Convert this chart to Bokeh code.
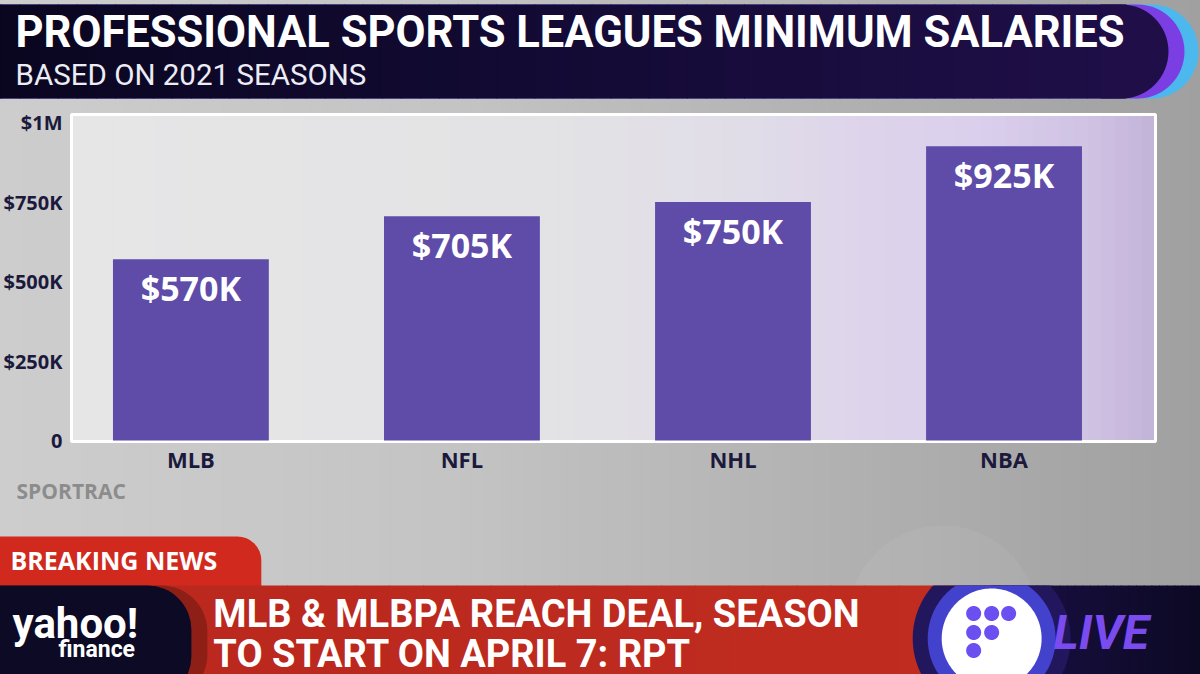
import numpy as np
from bokeh.plotting import figure
from bokeh.models import Range1d, FixedTicker
from bokeh.core.properties import value
from bokeh.embed import file_html
from bokeh.resources import INLINE

# ---------------- data ----------------
leagues = ["MLB", "NFL", "NHL", "NBA"]
min_salary = [570000, 705000, 750000, 925000]
salary_labels = ["$570K", "$705K", "$750K", "$925K"]
y_ticks = [0, 250000, 500000, 750000, 1000000]
y_tick_labels = ["0", "$250K", "$500K", "$750K", "$1M"]
title = "PROFESSIONAL SPORTS LEAGUES MINIMUM SALARIES"
subtitle = "BASED ON 2021 SEASONS"
source_note = "SPORTRAC"
tab_text = "BREAKING NEWS"
headline = ["MLB & MLBPA REACH DEAL, SEASON", "TO START ON APRIL 7: RPT"]

# ---------------- layout (page pixels) ----------------
W, H = 1200, 674
FL, FR, FT, FB = 70, 1155, 114, 441          # chart panel (frame)
BAR0_X, BAR_DX = 189.5, 271.3                 # first bar centre, spacing
ZERO_Y, TOP_Y = 440, 122                      # value 0 and 1M in page px
ppv = (ZERO_Y - TOP_Y) / 1e6

idx = list(range(len(leagues)))
x_range = Range1d(-(BAR0_X - FL) / BAR_DX, (FR - BAR0_X) / BAR_DX)
y_range = Range1d(-(FB - ZERO_Y) / ppv, (ZERO_Y - FT) / ppv)

p = figure(width=W, height=H, x_range=x_range, y_range=y_range,
           output_backend="svg", toolbar_location=None,
           min_border_left=FL, min_border_right=W - FR,
           min_border_top=FT, min_border_bottom=H - FB)
p.extra_x_ranges = {"px": Range1d(FL, FR)}
p.extra_y_ranges = {"py": Range1d(FB, FT)}
p.border_fill_color = "#bdbdbd"
p.background_fill_color = "#e4e4e4"
p.outline_line_color = None
p.xgrid.visible = False
p.ygrid.visible = False

PX = dict(x_range_name="px", y_range_name="py", level="guide")


def hex2rgb(h):
    h = h.lstrip("#")
    return [int(h[i:i + 2], 16) for i in (0, 2, 4)]


def mix(stops, t):
    if t <= stops[0][0]:
        return stops[0][1]
    for (p0, c0), (p1, c1) in zip(stops, stops[1:]):
        if t <= p1:
            f = (t - p0) / (p1 - p0)
            a, b = hex2rgb(c0), hex2rgb(c1)
            return "#%02x%02x%02x" % tuple(int(round(a[k] + (b[k] - a[k]) * f)) for k in range(3))
    return stops[-1][1]


def strips(xl, xr, yt, yb, stops, n):
    e = np.linspace(xl, xr, n + 1)
    m = (e[:-1] + e[1:]) / 2
    p.quad(left=e[:-1], right=e[1:] + 0.8, top=yt, bottom=yb,
           fill_color=[mix(stops, v) for v in m], line_color=None, **PX)


def box(l, r, t, b, color, radius=0, alpha=1.0):
    p.quad(left=[l], right=[r], top=[t], bottom=[b], fill_color=color,
           fill_alpha=alpha, line_color=None, border_radius=radius, **PX)


def disc(cx, cy, r, color, ycut=None, alpha=1.0):
    a = np.linspace(0, 2 * np.pi, 180)
    xs = cx + r * np.cos(a)
    ys = cy + r * np.sin(a)
    if ycut is not None:
        ys = np.maximum(ys, ycut)
    p.patch(xs, ys, fill_color=color, fill_alpha=alpha, line_color=None, **PX)


def txt(x, y, s, size, color, font="Roboto", style="bold", align="left"):
    # y is the vertical centre of the text line
    p.text(x=[x], y=[y], text=[s], text_font=value(font), text_font_size=f"{size}px",
           text_font_style=style, text_color=color, text_align=align,
           text_baseline="middle", **PX)


# ---------------- background ----------------
strips(-20, 1220, -20, 700, [(0, "#cdcdcd"), (450, "#c4c4c4"), (800, "#b3b3b3"), (1200, "#a0a0a0")], 124)
disc(942, 620, 95, "#ffffff", alpha=0.05)

# ---------------- top banner ----------------
box(-20, 1198, 4, 98, "#4cb8ee", radius=(0, 47, 47, 0))
box(-20, 1184, 4, 98, "#7a3ee2", radius=(0, 47, 47, 0))
strips(-20, 1125, 4, 98, [(0, "#0a0620"), (600, "#140b36"), (1125, "#1f0e48")], 60)
box(1100, 1168, 4, 98, "#1f0e48", radius=(0, 47, 47, 0))
txt(14, 32, title, 43.5, "#ffffff")
txt(14, 74, subtitle, 29.5, "#ececf4", style="normal")

# ---------------- chart panel ----------------
strips(FL, FR, FT, FB, [(70, "#e6e6e7"), (520, "#e3e3e5"), (720, "#e1dee7"), (870, "#ddd4eb"),
                        (980, "#dacfec"), (1090, "#cfc2e3"), (1155, "#c2b2d9")], 80)
p.quad(left=[FL], right=[FR], top=[FT], bottom=[FB], fill_color=None,
       line_color="#ffffff", line_width=3, **PX)

# bars + value labels (chart scales)
p.vbar(x=idx, top=min_salary, bottom=0, width=0.575, fill_color="#5f4ba8",
       line_color=None, level="guide")
p.text(x=idx, y=min_salary, text=salary_labels, text_font=value("Open Sans"),
       text_font_size="34px", text_font_style="bold", text_color="#ffffff",
       text_align="center", text_baseline="middle", y_offset=29, level="guide")

# axes
for ax in (p.xaxis[0], p.yaxis[0]):
    ax.axis_line_color = None
    ax.major_tick_line_color = None
    ax.minor_tick_line_color = None
    ax.major_tick_out = 0
    ax.major_tick_in = 0
    ax.major_label_text_font = "Open Sans"
    ax.major_label_text_font_style = "bold"
    ax.major_label_text_color = "#1c1a3c"
p.yaxis.ticker = FixedTicker(ticks=y_ticks)
p.yaxis.major_label_overrides = dict(zip(y_ticks, y_tick_labels))
p.yaxis.major_label_text_font_size = "20px"
p.yaxis.major_label_standoff = 9
p.xaxis.ticker = FixedTicker(ticks=idx)
p.xaxis.major_label_overrides = dict(zip(idx, leagues))
p.xaxis.major_label_text_font_size = "22px"
p.xaxis.major_label_standoff = 2

txt(15, 490, source_note, 21, "#8c8c8c", font="Open Sans")

# ---------------- bottom ticker ----------------
box(-20, 260, 536, 600, "#d2291e", radius=(0, 24, 0, 0))
txt(9, 559, tab_text, 25, "#ffffff", font="Open Sans")
strips(-20, 1000, 585, 700, [(0, "#b8271d"), (1000, "#c12c20")], 30)
box(-20, 206, 585, 700, "#8e1f17", radius=(0, 46, 46, 0))
box(-20, 190, 585, 700, "#0c0a24", radius=(0, 44, 44, 0))
txt(11, 623, "yahoo!", 42, "#ffffff")
txt(57, 649, "finance", 23, "#ffffff")
txt(212, 613, headline[0], 38, "#ffffff")
txt(212, 653, headline[1], 38, "#ffffff")

strips(990, 1220, 585, 700, [(990, "#1b1046"), (1220, "#0a0820")], 30)
disc(991, 638, 79, "#22165c", ycut=585)
disc(991, 638, 64, "#4342cc", ycut=585)
disc(991, 638, 50, "#ffffff", ycut=585)
for dx, dy in [(973, 613), (991, 613), (1008, 613), (973, 632), (991, 632), (973, 650)]:
    disc(dx, dy, 7.5, "#6c4ff0")
txt(1053, 632, "LIVE", 48, "#7a4cf0", style="bold italic")

open("out.html", "w").write(file_html(p, INLINE))
